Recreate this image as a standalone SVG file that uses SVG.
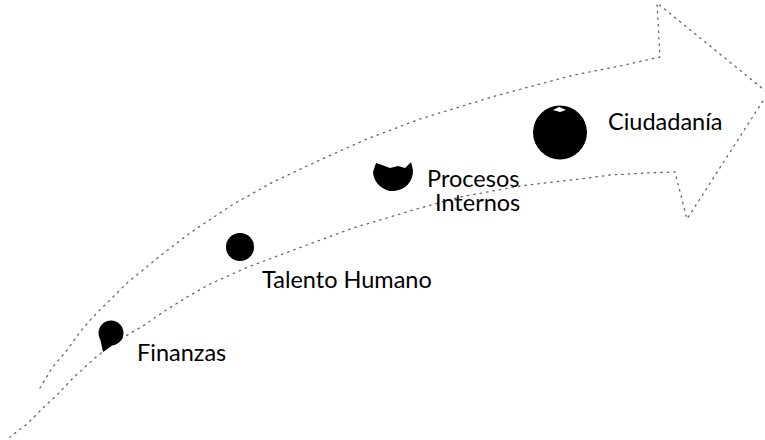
<svg xmlns="http://www.w3.org/2000/svg" width="765" height="440" viewBox="0 0 765 440">
<style>
.edge{fill:none;stroke:#666;stroke-width:1.3;stroke-dasharray:1.5 5;stroke-linejoin:round;stroke-linecap:round}
.dot{fill:#000}
.lbl{font-family:Lato,"Liberation Sans",sans-serif;font-size:23.5px;fill:#000}
</style>
<rect width="765" height="440" fill="#fff"/>
<g id="connectors">
<polyline class="edge" points="40,388 52,368 67,350 80,332 92,318 107,303 127,283 160,256 190,233 232,205 273,182 320,160 367,139 420,119 492,97 540,84 574,75 620,66 660,57 657,3 768,93 687,219 675,172 647,173 610,175 580,179 553,182 520,186 460,197 413,210 387,218 353,228 307,245 248,267 210,284 187,297 163,312 143,326 115,342 95,358 73,378 55,397 45,406 27,424 10,437"/>
</g>
<g id="finanzas">
<circle class="dot" cx="111" cy="333" r="12.5"/>
<path class="dot" d="M100,338 L103,352 L114,344 Z"/>
<text class="lbl" x="137" y="361">Finanzas</text>
</g>
<g id="talento">
<circle class="dot" cx="240" cy="247" r="14"/>
<text class="lbl" x="262" y="288">Talento Humano</text>
</g>
<g id="procesos">
<path class="dot" d="M373,172 A20,20 0 1 0 413,170 L411,162 L405,168 L398,166 L390,168 L382,165 L376,163 Z"/>
<text class="lbl" x="427" y="187">Procesos</text>
<text class="lbl" x="435" y="211">Internos</text>
</g>
<g id="ciudadania">
<circle class="dot" cx="560" cy="132.5" r="27"/>
<path d="M553,110 L559,107 L566,110 L560,112 Z" fill="#fff"/>
<text class="lbl" x="608" y="130">Ciudadanía</text>
</g>
</svg>
